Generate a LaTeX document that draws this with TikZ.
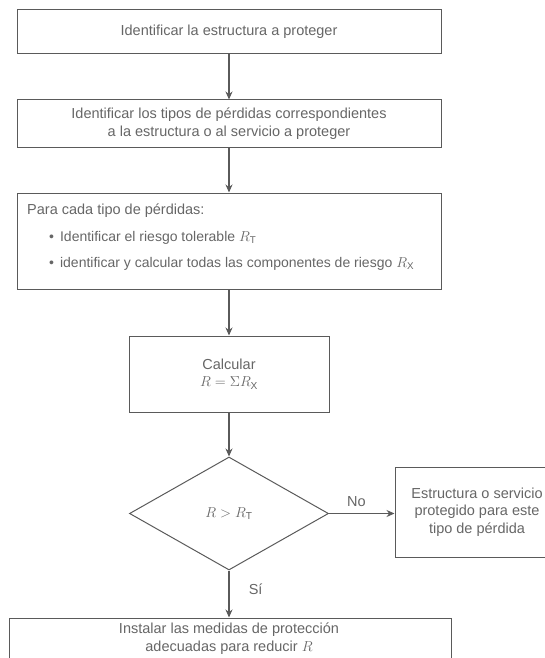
\documentclass[tikz,border=0pt]{standalone}
\usepackage{fontspec}
\setmainfont{Liberation Sans}
\usetikzlibrary{shapes.geometric,arrows.meta}
\definecolor{ink}{HTML}{5A5A5A}
\definecolor{txt}{HTML}{666666}
\tikzset{
  x=1pt,y=-1pt,
  box/.style={draw=ink,line width=1pt,rectangle,inner sep=0pt},
  flow/.style={draw=ink,line width=1.6pt,-{Stealth[length=8pt,width=7pt]}},
  lbl/.style={text=txt,font=\fontsize{14.5}{17.5}\selectfont,align=center,inner sep=0pt},
  blt/.style={text=txt,font=\fontsize{14}{17}\selectfont,inner sep=0pt,anchor=west},
}
\begin{document}
\begin{tikzpicture}
\useasboundingbox (0,0) rectangle (545,658);
\node[box,minimum width=424pt,minimum height=44pt] (b1) at (229,32) {};
\node[lbl] at (b1.center) {Identificar la estructura a proteger};
\node[box,minimum width=424pt,minimum height=47pt] (b2) at (229,123.5) {};
\node[lbl] at (b2.center) {Identificar los tipos de pérdidas correspondientes\\a la estructura o al servicio a proteger};
\node[box,minimum width=424pt,minimum height=96pt] (b3) at (229,241) {};
\node[lbl,anchor=west] at (27,211) {Para cada tipo de pérdidas:};
\node[blt] at (49,238) {\textbullet\hspace{6pt}Identificar el riesgo tolerable $R_{\mathrm{T}}$};
\node[blt] at (49,264) {\textbullet\hspace{6pt}identificar y calcular todas las componentes de riesgo $R_{\mathrm{X}}$};
\node[box,minimum width=200pt,minimum height=76pt] (b4) at (229,374) {};
\node[lbl] at (b4.center) {Calcular\\$R=\Sigma R_{\mathrm{X}}$};
\node[box,diamond,aspect=1.76,minimum width=199pt,minimum height=113pt] (d) at (229,513.5) {};
\node[lbl] at (d.center) {$R>R_{\mathrm{T}}$};
\node[box,minimum width=166pt,minimum height=90pt] (b5) at (478,512) {};
\node[lbl] at (477,512) {Estructura o servicio\\protegido para este\\tipo de pérdida};
\node[box,minimum width=442pt,minimum height=60pt] (b6) at (230,648) {};
\node[lbl] at (229,638.5) {Instalar las medidas de protección\\adecuadas para reducir $R$};
\draw[flow] (b1.south -| 229,0) -- (b2.north -| 229,0);
\draw[flow] (b2.south -| 229,0) -- (b3.north -| 229,0);
\draw[flow] (b3.south -| 229,0) -- (b4.north -| 229,0);
\draw[flow] (b4.south -| 229,0) -- (d.north);
\draw[flow,line width=1pt] (d.east) -- (b5.west |- d.east) node[pos=0.42,above=6pt,lbl] {No};
\draw[flow] (d.south) -- (b6.north -| d.south) node[pos=0.4,right=19pt,lbl] {Sí};
\end{tikzpicture}
\end{document}
